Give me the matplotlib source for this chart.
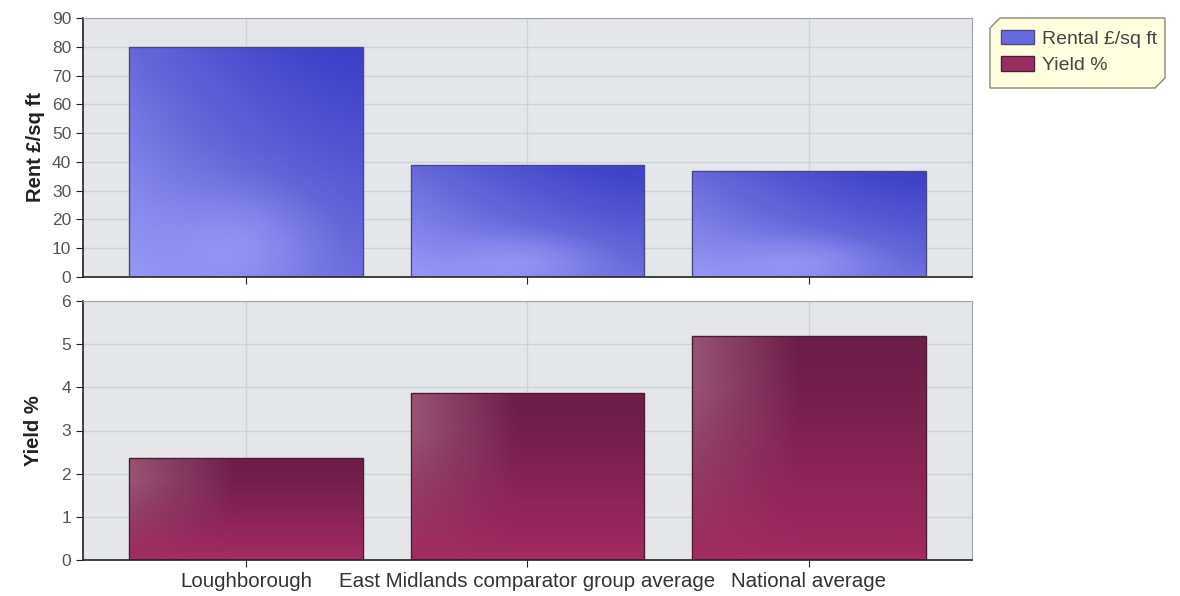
import numpy as np
import matplotlib.pyplot as plt
from matplotlib.patches import Patch, Polygon

plt.rcParams['font.family'] = ['Liberation Sans', 'DejaVu Sans']

categories = ["Loughborough", "East Midlands comparator group average", "National average"]
rent = [80, 39, 37]
yield_pct = [2.37, 3.88, 5.2]

rent_ticks = [0, 10, 20, 30, 40, 50, 60, 70, 80, 90]
yield_ticks = [0, 1, 2, 3, 4, 5, 6]

W, H = 1180, 596
fig = plt.figure(figsize=(W / 100, H / 100), dpi=100)
fig.patch.set_facecolor("white")

def px_axes(x0, y0, x1, y1):
    return fig.add_axes([x0 / W, 1 - y1 / H, (x1 - x0) / W, (y1 - y0) / H])

ax1 = px_axes(83, 18, 972, 277)
ax2 = px_axes(83, 301, 972, 560)

def blue_grad(n=120, m=120):
    u = np.linspace(0, 1, m)[None, :]
    v = np.linspace(0, 1, n)[:, None]  # 0 at bottom
    t = 0.5 * (1 - v) + 0.45 * (1 - u) ** 1.5
    t = t + 0.3 * np.exp(-((u - 0.5) ** 2 / 0.1 + (v - 0.15) ** 2 / 0.05))
    t = np.clip(t, 0, 1)
    dark = np.array([62, 62, 200]) / 255
    light = np.array([155, 155, 245]) / 255
    return dark + (light - dark) * t[..., None]

def maroon_grad(n=120, m=120):
    u = np.linspace(0, 1, m)[None, :]
    v = np.linspace(0, 1, n)[:, None]
    dark = np.array([108, 30, 72]) / 255
    pink = np.array([172, 44, 100]) / 255
    grey = np.array([165, 100, 130]) / 255
    t = np.clip(0.9 * (1 - v) ** 1.3, 0, 1)
    img = dark + (pink - dark) * t[..., None]
    g = np.clip(1 - u / 0.45, 0, 1) * np.clip(v * 1.3, 0, 1)
    img = img + (grey - img) * (0.75 * g)[..., None]
    return img

def draw_bars(ax, values, grad, edge):
    x = np.arange(len(values))
    bars = ax.bar(x, values, width=0.83, color="none", edgecolor=edge, linewidth=1.0, zorder=3)
    for b in bars:
        x0, w, h = b.get_x(), b.get_width(), b.get_height()
        im = ax.imshow(grad(), extent=(x0, x0 + w, 0, h), origin="lower",
                       aspect="auto", zorder=2, interpolation="bilinear")
        im.set_clip_path(b)
    ax.set_xlim(-0.58, len(values) - 0.42)

def style_axes(ax, ticks):
    ax.set_facecolor("#e4e6ea")
    ax.set_ylim(ticks[0], ticks[-1])
    ax.set_yticks(ticks)
    ax.set_xticks(range(len(categories)))
    ax.grid(True, color="#cfd2d6", linewidth=1.0, zorder=0)
    ax.set_axisbelow(True)
    for s in ["top", "right"]:
        ax.spines[s].set_color("#a0a3a8")
    for s in ["left", "bottom"]:
        ax.spines[s].set_color("#222222")
        ax.spines[s].set_linewidth(1.2)
    ax.tick_params(axis="y", colors="#222222", labelcolor="#555555", labelsize=12.5, length=5)
    ax.tick_params(axis="x", colors="#222222", labelcolor="#333333", labelsize=14.8, length=5)

draw_bars(ax1, rent, blue_grad, "#4a4a80")
style_axes(ax1, rent_ticks)
ax1.set_xticklabels([])
ax1.set_ylabel("Rent £/sq ft", fontsize=14.5, fontweight="bold", color="#222222", labelpad=5)

draw_bars(ax2, yield_pct, maroon_grad, "#4a2030")
style_axes(ax2, yield_ticks)
ax2.set_xticklabels(categories)
ax2.set_ylabel("Yield %", fontsize=14.5, fontweight="bold", color="#222222", labelpad=13)

# legend box with clipped corners
lx0, ly0, lx1, ly1, c = 990, 18, 1165, 88, 10
pts = [(lx0 + c, ly0), (lx1, ly0), (lx1, ly1 - c), (lx1 - c, ly1), (lx0, ly1), (lx0, ly0 + c)]
pts = [(x / W, 1 - y / H) for x, y in pts]
fig.add_artist(Polygon(pts, closed=True, facecolor="#ffffdd", edgecolor="#8a8a70",
                       linewidth=1.0, transform=fig.transFigure, zorder=1))

handles = [Patch(facecolor="#6a6ae0", edgecolor="#4a4a80", label="Rental £/sq ft"),
           Patch(facecolor="#9a2e62", edgecolor="#4a2030", label="Yield %")]
leg = fig.legend(handles=handles, loc="upper left", bbox_to_anchor=(993 / W, 1 - 22 / H),
                 frameon=False, fontsize=14, handlelength=1.7, handleheight=0.75,
                 handletextpad=0.4, labelspacing=0.45, borderaxespad=0)
for t in leg.get_texts():
    t.set_color("#444444")
leg.set_zorder(2)

fig.savefig("out.png", dpi=100)
